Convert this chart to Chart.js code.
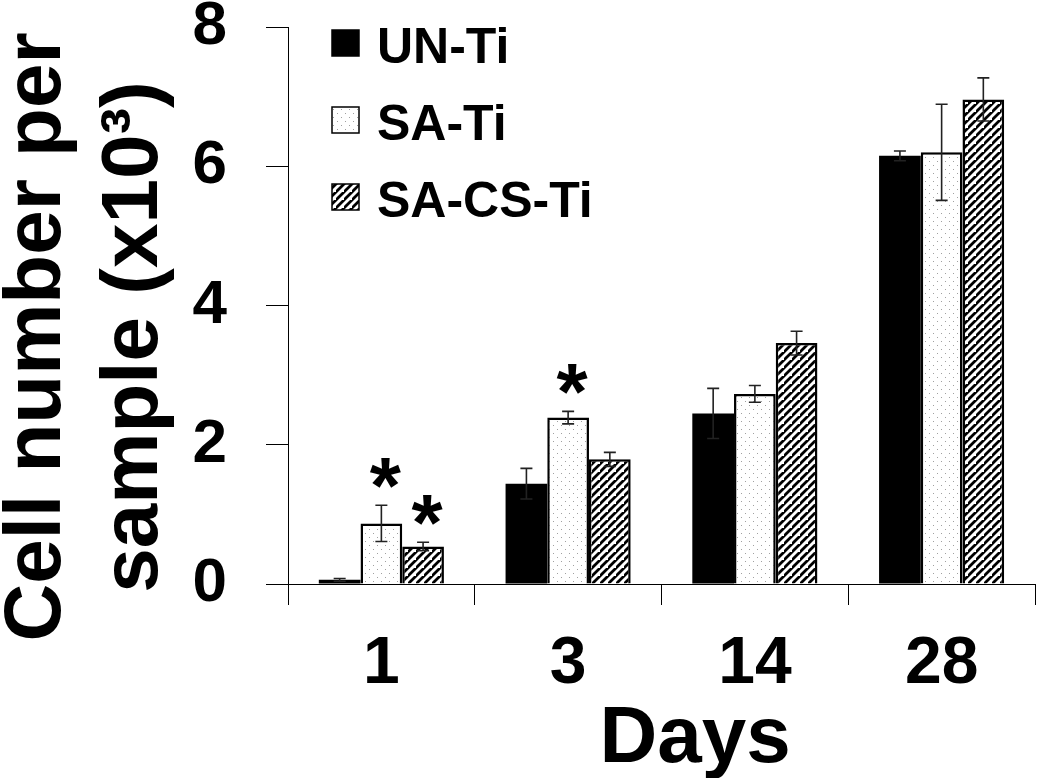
<!DOCTYPE html>
<html><head><meta charset="utf-8">
<script src="https://cdn.jsdelivr.net/npm/chart.js@4.4.1/dist/chart.umd.min.js"></script>
<style>html,body{margin:0;padding:0;background:#fff;} canvas{display:block;}</style>
</head><body>
<canvas id="c" width="1050" height="778"></canvas>
<script>
const days = ['1', '3', '14', '28'];
const seriesNames = ['UN-Ti', 'SA-Ti', 'SA-CS-Ti'];
const unTi = [0.06, 1.44, 2.45, 6.15];
const unTiErr = [0.02, 0.22, 0.36, 0.07];
const saTi = [0.87, 2.39, 2.73, 6.20];
const saTiErr = [0.26, 0.09, 0.12, 0.69];
const saCsTi = [0.54, 1.79, 3.46, 6.96];
const saCsTiErr = [0.06, 0.10, 0.17, 0.31];
const yTickValues = [0, 2, 4, 6, 8];
const sigSeries = [1, 2, 1];
const sigDay = [0, 0, 1];
const yTitleLines = ['Cell number per', 'sample (x10\u00B3)'];
const xTitle = 'Days';

const FONT = "'Liberation Sans', Arial, sans-serif";

function makeDots() {
  const t = document.createElement('canvas'); t.width = 8; t.height = 8;
  const g = t.getContext('2d');
  g.fillStyle = '#fff'; g.fillRect(0, 0, 8, 8);
  g.fillStyle = '#a0a0a0';
  g.fillRect(1, 1, 1, 1); g.fillRect(5, 5, 1, 1);
  return g.createPattern(t, 'repeat');
}
function makeHatch() {
  const s = 8;
  const t = document.createElement('canvas'); t.width = s; t.height = s;
  const g = t.getContext('2d');
  g.fillStyle = '#fff'; g.fillRect(0, 0, s, s);
  g.strokeStyle = '#000'; g.lineWidth = 2.8; g.lineCap = 'square';
  g.beginPath();
  g.moveTo(0, s); g.lineTo(s, 0);
  g.moveTo(-s, s); g.lineTo(0, 0);
  g.moveTo(s, 2 * s); g.lineTo(2 * s, s);
  g.stroke();
  return g.createPattern(t, 'repeat');
}
const dots = makeDots();
const hatch = makeHatch();

const errs = [unTiErr, saTiErr, saCsTiErr];

const errorBars = {
  id: 'errorBars',
  afterDatasetsDraw(chart) {
    const ctx = chart.ctx; const y = chart.scales.y;
    ctx.save();
    ctx.strokeStyle = '#222'; ctx.lineWidth = 1.6;
    chart.data.datasets.forEach((ds, di) => {
      const meta = chart.getDatasetMeta(di);
      meta.data.forEach((el, i) => {
        const v = ds.data[i], e = errs[di][i];
        const yt = y.getPixelForValue(v + e), yb = y.getPixelForValue(v - e);
        const x = el.x;
        ctx.beginPath();
        ctx.moveTo(x, yt); ctx.lineTo(x, yb);
        ctx.moveTo(x - 6, yt); ctx.lineTo(x + 6, yt);
        ctx.moveTo(x - 6, yb); ctx.lineTo(x + 6, yb);
        ctx.stroke();
      });
    });
    ctx.fillStyle = '#000';
    ctx.font = 'bold 80px ' + FONT;
    ctx.textAlign = 'center'; ctx.textBaseline = 'alphabetic';
    sigSeries.forEach((s, k) => {
      const d = sigDay[k];
      const el = chart.getDatasetMeta(s).data[d];
      const v = chart.data.datasets[s].data[d] + errs[s][d];
      const yt = y.getPixelForValue(v);
      ctx.fillText('*', el.x + 4, yt + 8);
    });
    ctx.restore();
  }
};

const decorations = {
  id: 'decorations',
  afterDraw(chart) {
    const ctx = chart.ctx;
    ctx.save();
    ctx.fillStyle = '#000';
    // y title
    ctx.font = 'bold 80px ' + FONT;
    ctx.textAlign = 'center'; ctx.textBaseline = 'alphabetic';
    const bx = [60, 157];
    yTitleLines.forEach((line, i) => {
      ctx.save();
      ctx.translate(bx[i], 337);
      ctx.rotate(-Math.PI / 2);
      ctx.fillText(line, 0, 0);
      ctx.restore();
    });
    // x title
    ctx.font = 'bold 80px ' + FONT;
    ctx.fillText(xTitle, 695, 762);
    // legend
    ctx.font = 'bold 50px ' + FONT;
    ctx.textAlign = 'left';
    chart.data.datasets.forEach((ds, i) => {
      const base = 63 + i * 77;
      ctx.fillStyle = ds.backgroundColor;
      ctx.fillRect(332, base - 33, 27, 26);
      ctx.strokeStyle = '#000'; ctx.lineWidth = 1.5;
      ctx.strokeRect(332, base - 33, 27, 26);
      ctx.fillStyle = '#000';
      ctx.fillText(ds.label, 377, base);
    });
    ctx.restore();
  }
};

new Chart(document.getElementById('c'), {
  type: 'bar',
  data: {
    labels: days,
    datasets: [
      { label: seriesNames[0], data: unTi, backgroundColor: '#000', borderColor: '#000', borderWidth: 0 },
      { label: seriesNames[1], data: saTi, backgroundColor: dots, borderColor: '#000', borderWidth: 2.5 },
      { label: seriesNames[2], data: saCsTi, backgroundColor: hatch, borderColor: '#000', borderWidth: 2.5 }
    ]
  },
  options: {
    responsive: false, animation: false, devicePixelRatio: 1,
    layout: { padding: { top: 27, right: 15, left: 0, bottom: 0 } },
    datasets: { bar: { categoryPercentage: 0.67, barPercentage: 1.0 } },
    plugins: { legend: { display: false }, tooltip: { enabled: false } },
    scales: {
      x: {
        offset: true,
        grid: { offset: true, drawOnChartArea: false, drawTicks: true, tickLength: 21, color: '#000', lineWidth: 1 },
        border: { color: '#000', width: 1 },
        ticks: { color: '#000', font: { family: FONT, size: 66, weight: 'bold' }, padding: 20 },
        title: { display: false },
        afterFit(s) { s.height = 194; s.paddingLeft = 0; s.paddingRight = 0; }
      },
      y: {
        min: 0, max: 8,
        afterBuildTicks(s) { s.ticks = yTickValues.map(v => ({ value: v })); },
        grid: { drawOnChartArea: false, drawTicks: true, tickLength: 22, color: '#000', lineWidth: 1 },
        border: { color: '#000', width: 1 },
        ticks: { color: '#000', font: { family: FONT, size: 62, weight: 'bold' }, padding: 39 },
        afterFit(s) { s.width = 288; s.paddingTop = 0; s.paddingBottom = 0; }
      }
    }
  },
  plugins: [errorBars, decorations]
});
</script>
</body></html>
